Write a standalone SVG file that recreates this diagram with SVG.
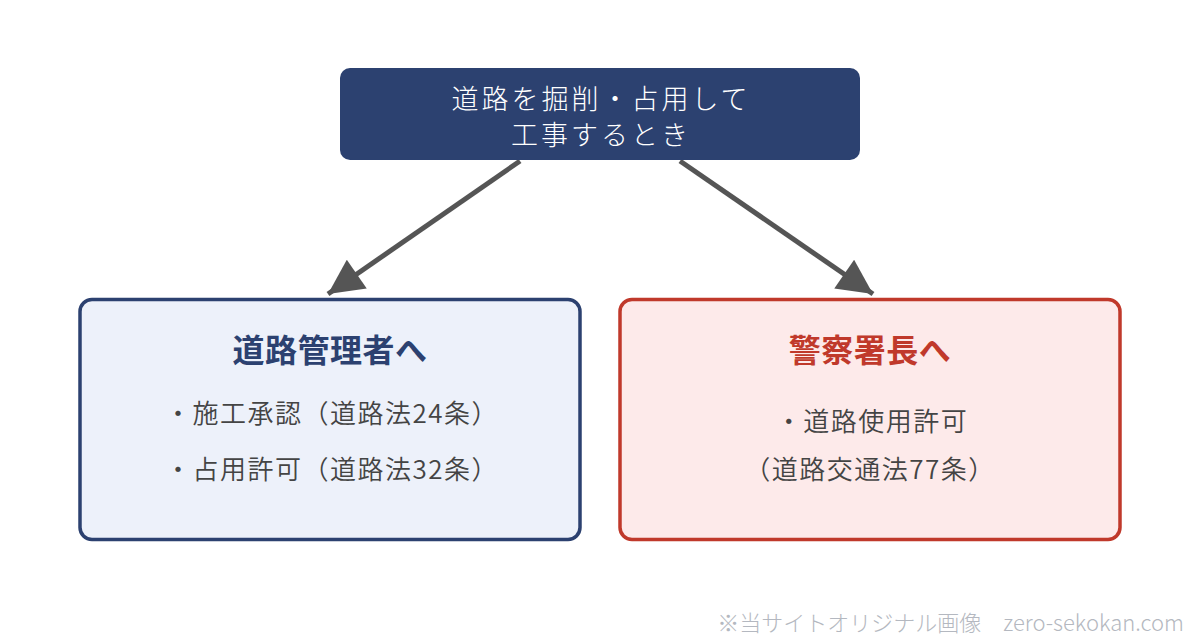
<svg xmlns="http://www.w3.org/2000/svg" width="1200" height="644" viewBox="0 0 1200 644">
<style>
text{font-family:"Noto Sans CJK JP","Noto Sans",sans-serif;text-anchor:middle}
.top{fill:#ffffff;font-size:27px;font-weight:300;letter-spacing:3px}
.ttl{font-size:32px;font-weight:700;letter-spacing:0.5px}
.body{fill:#444444;font-size:26px;font-weight:350;letter-spacing:1.5px}
.conn{stroke:#555555;stroke-width:5;fill:none}
</style>
<defs>
<marker id="ah" viewBox="0 0 10 10" refX="10" refY="5" markerWidth="8" markerHeight="7" markerUnits="strokeWidth" orient="auto">
<path d="M0,0 L10,5 L0,10 z" fill="#555555"/>
</marker>
</defs>
<rect width="1200" height="644" fill="#ffffff"/>
<g id="connectors">
<line class="conn" x1="520" y1="161" x2="328" y2="294" marker-end="url(#ah)"/>
<line class="conn" x1="680" y1="161" x2="873" y2="294" marker-end="url(#ah)"/>
</g>
<g id="node-top">
<rect x="340" y="68" width="520" height="92" rx="10" fill="#2c4170"/>
<text class="top" x="601" y="109">道路を掘削・占用して</text>
<text class="top" x="601" y="145">工事するとき</text>
</g>
<g id="node-road">
<rect x="80" y="299.5" width="500" height="240" rx="12" fill="#edf1fa" stroke="#2c4170" stroke-width="3.5"/>
<text class="ttl" x="330" y="362" fill="#2c4170">道路管理者へ</text>
<text class="body" x="332" y="423">・施工承認（道路法24条）</text>
<text class="body" x="332" y="479">・占用許可（道路法32条）</text>
</g>
<g id="node-police">
<rect x="620" y="299.5" width="500" height="240" rx="12" fill="#fdeaea" stroke="#c0392b" stroke-width="3.5"/>
<text class="ttl" x="870" y="362" fill="#c0392b">警察署長へ</text>
<text class="body" x="872" y="431">・道路使用許可</text>
<text class="body" x="870" y="479">（道路交通法77条）</text>
</g>
<text x="1184" y="631" style="text-anchor:end;font-size:22px;font-weight:300;fill:#b4b8c0">※当サイトオリジナル画像　zero-sekokan.com</text>
</svg>
